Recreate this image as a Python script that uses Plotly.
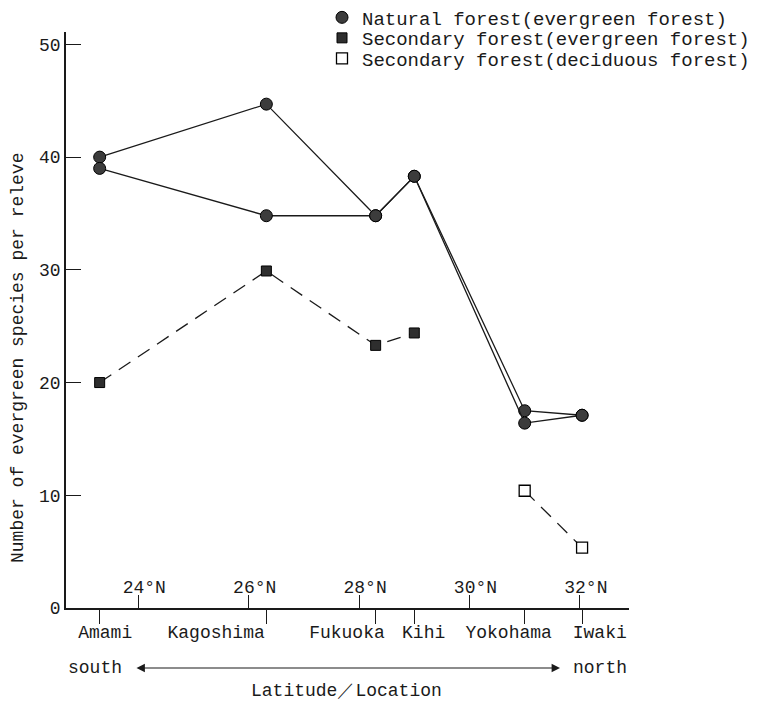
import plotly.graph_objects as go

# ---- data ----
locations = ["Amami", "Kagoshima", "Fukuoka", "Kihi", "Yokohama", "Iwaki"]
location_lat = [23.3, 26.32, 28.3, 29.0, 31.0, 32.04]   # tick position on latitude scale
lat_ticks = [24, 26, 28, 30, 32]
lat_labels = ["24°N", "26°N", "28°N", "30°N", "32°N"]

natural_a = [40.0, 44.7, 34.8, 38.3, 17.5, 17.1]
natural_b = [39.0, 34.8, 34.8, 38.3, 16.4, 17.1]
secondary_ever_loc = ["Amami", "Kagoshima", "Fukuoka", "Kihi"]
secondary_ever = [20.0, 29.9, 23.3, 24.4]
secondary_dec_loc = ["Yokohama", "Iwaki"]
secondary_dec = [10.4, 5.35]

y_ticks = [0, 10, 20, 30, 40, 50]

series_names = ["Natural forest(evergreen forest)",
                "Secondary forest(evergreen forest)",
                "Secondary forest(deciduous forest)"]

pos = dict(zip(locations, location_lat))

# layout: where each location name is printed (names are not centred on their ticks)
LABEL_POS = [23.40, 25.41, 27.78, 29.17, 30.71, 32.36]

FONT = "Liberation Mono, Courier New, monospace"
INK = "#1a1a1a"

W, H = 763, 704
ML, MR, MT, MB = 66, 134, 32, 96
PW, PH = W - ML - MR, H - MT - MB
XR = [22.69, 32.89]
YR = [0, 51.1]

def px_x(px):
    return (px - ML) / PW

def px_y(py):
    return (H - MB - py) / PH

fig = go.Figure()

nat_marker = dict(symbol="circle", size=12, color="#3c3c3c", line=dict(color="#000", width=1))
sec_marker = dict(symbol="square", size=10, color="#2e2e2e", line=dict(color="#000", width=1))
dec_marker = dict(symbol="square", size=11, color="white", line=dict(color="#000", width=1.3))

for ys in (natural_a, natural_b):
    fig.add_trace(go.Scatter(x=[pos[l] for l in locations], y=ys, mode="lines+markers",
                             line=dict(color=INK, width=1.3), marker=nat_marker,
                             showlegend=False))
fig.add_trace(go.Scatter(x=[pos[l] for l in secondary_ever_loc], y=secondary_ever,
                         mode="lines+markers", line=dict(color=INK, width=1.3, dash="14px,9px"),
                         marker=sec_marker, showlegend=False))
fig.add_trace(go.Scatter(x=[pos[l] for l in secondary_dec_loc], y=secondary_dec,
                         mode="lines+markers", line=dict(color=INK, width=1.3, dash="14px,9px"),
                         marker=dec_marker, showlegend=False))

# legend entries (markers only), one legend per row for exact row spacing
legend_ids = ["legend", "legend2", "legend3"]
entry_axes = ["x", "x2", "x3"]
for name, mk, lg, xa in zip(series_names, [nat_marker, sec_marker, dec_marker],
                            legend_ids, entry_axes):
    fig.add_trace(go.Scatter(x=[None], y=[None], mode="markers", marker=mk,
                             name=name, legend=lg, xaxis=xa))

row_centers = [17.5, 38.0, 58.5]
legend_common = dict(x=px_x(322), xanchor="left", yanchor="middle",
                     bgcolor="rgba(0,0,0,0)", font=dict(size=19, color=INK))

fig.update_layout(
    width=W, height=H,
    margin=dict(l=ML, r=MR, t=MT, b=MB, autoexpand=False),
    paper_bgcolor="white", plot_bgcolor="white",
    font=dict(family=FONT, size=18, color=INK),
    # bottom axis: location ticks (below the line)
    xaxis=dict(range=XR, tickvals=location_lat, showticklabels=False,
               ticks="outside", ticklen=14, tickwidth=1.3, tickcolor=INK,
               automargin=False,
               showline=True, linecolor=INK, linewidth=1.5,
               showgrid=False, zeroline=False),
    # latitude ticks (above the line)
    xaxis2=dict(range=XR, overlaying="x", side="top", anchor="free", position=0,
                tickvals=lat_ticks, ticktext=lat_labels, tickangle=0,
                ticks="outside", ticklen=13, tickwidth=1.3, tickcolor=INK,
                ticklabelshift=6, ticklabelstandoff=-5,
                showline=False, automargin=False,
                showgrid=False, zeroline=False, tickfont=dict(size=18)),
    # location names
    xaxis3=dict(range=XR, overlaying="x", side="bottom", anchor="y",
                tickvals=LABEL_POS, ticktext=locations, tickangle=0,
                ticks="", ticklabelstandoff=11,
                showline=False, automargin=False,
                showgrid=False, zeroline=False, tickfont=dict(size=18)),
    yaxis=dict(range=YR, tickvals=y_ticks, ticks="inside", ticklen=15,
               tickwidth=1.3, tickcolor=INK, showline=True, linecolor=INK,
               linewidth=1.5, showgrid=False, zeroline=False, automargin=False,
               tickfont=dict(size=18)),
    legend=dict(y=px_y(row_centers[0]), **legend_common),
    legend2=dict(y=px_y(row_centers[1]), **legend_common),
    legend3=dict(y=px_y(row_centers[2]), **legend_common),
    annotations=[
        dict(text="Number of evergreen species per releve", textangle=-90,
             xref="paper", yref="paper", x=px_x(18), y=px_y(358),
             xanchor="center", yanchor="middle", showarrow=False,
             font=dict(size=18)),
        dict(text="south", xref="paper", yref="paper", x=px_x(66), y=px_y(668),
             xanchor="left", yanchor="middle", showarrow=False),
        dict(text="north", xref="paper", yref="paper", x=px_x(571), y=px_y(668),
             xanchor="left", yanchor="middle", showarrow=False),
        dict(text="", xref="paper", yref="paper", x=px_x(560), y=px_y(668),
             axref="pixel", ayref="pixel", ax=-425, ay=0, showarrow=True,
             arrowhead=2, arrowside="end+start", arrowsize=1.4, arrowwidth=1.2,
             arrowcolor=INK),
        dict(text="Latitude／Location", xref="paper", yref="paper",
             x=px_x(346), y=px_y(691), xanchor="center", yanchor="middle",
             showarrow=False),
    ],
)

fig.write_html("out.html", post_script="document.body.style.margin='0';",
               config={"displayModeBar": False})
